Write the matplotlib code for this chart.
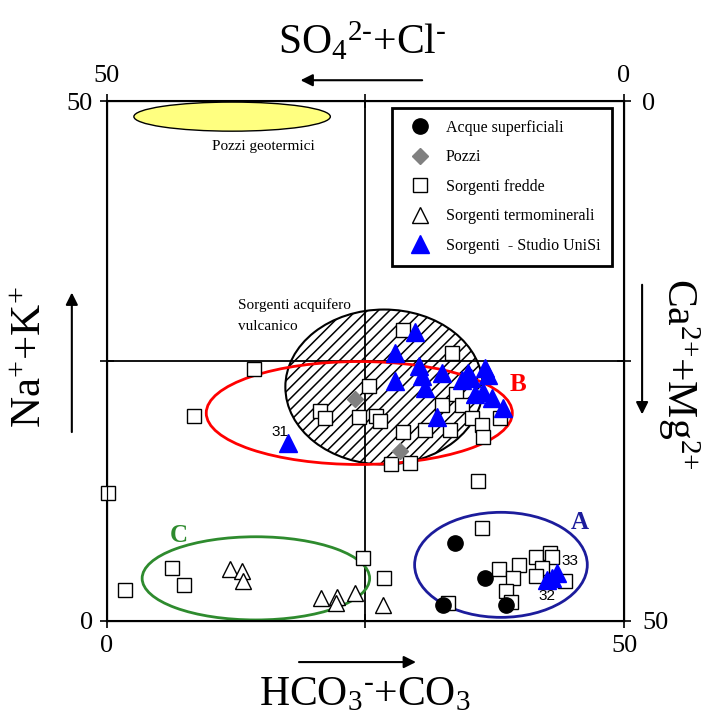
import matplotlib
matplotlib.use('Agg')
import matplotlib.pyplot as plt
from matplotlib.patches import Ellipse
from matplotlib.lines import Line2D

plt.rcParams['font.family'] = 'serif'
plt.rcParams['font.serif'] = ['Liberation Serif', 'DejaVu Serif']
plt.rcParams['mathtext.fontset'] = 'custom'
plt.rcParams['mathtext.rm'] = 'Liberation Serif'
plt.rcParams['mathtext.it'] = 'Liberation Serif:italic'
plt.rcParams['mathtext.bf'] = 'Liberation Serif:bold'
plt.rcParams['hatch.linewidth'] = 1.1

# x = HCO3+CO3 (%), y = Na+K (%)
sup_x = [33.7, 36.6, 32.5, 38.6]
sup_y = [7.5, 4.1, 1.5, 1.5]

pozzi_x = [24.0, 28.3]
pozzi_y = [21.3, 16.3]

fredde_x = [0.1, 1.7, 6.3, 7.4, 8.4, 14.2, 20.6, 21.1, 25.3, 24.4, 26.0, 26.4, 28.6, 27.5,
            29.3, 28.6, 33.4, 30.8, 33.2, 32.4, 33.8, 34.3, 35.3, 36.3, 36.4, 38.0, 35.9,
            36.3, 24.8, 26.8, 33.0, 37.9, 39.8, 39.3, 38.6, 39.1, 41.5, 42.8, 43.0, 42.1,
            41.5, 44.3]
fredde_y = [12.3, 3.0, 5.1, 3.5, 19.7, 24.2, 20.2, 19.5, 22.6, 19.6, 19.7, 19.2, 18.2, 15.1,
            15.2, 28.0, 25.8, 18.4, 18.4, 20.8, 21.8, 20.8, 19.5, 18.8, 17.7, 19.5, 13.5,
            8.9, 6.1, 4.1, 1.7, 5.0, 5.4, 4.1, 2.9, 1.8, 6.2, 6.5, 6.2, 5.1,
            4.3, 3.8]

termo_x = [11.9, 13.1, 13.2, 20.7, 22.2, 22.1, 24.0, 26.7]
termo_y = [5.0, 4.8, 3.8, 2.2, 2.3, 1.7, 2.7, 1.5]

unisi_x = [17.5, 29.8, 27.9, 27.9, 30.2, 30.5, 30.8, 32.4, 34.3, 35.2, 36.6, 36.8, 35.6,
           36.4, 37.2, 38.3, 31.9, 34.9, 42.6, 43.5, 43.0]
unisi_y = [17.1, 27.8, 25.8, 23.1, 24.5, 23.6, 22.4, 23.8, 23.2, 23.4, 24.3, 23.7, 21.8,
           22.0, 21.4, 20.5, 19.6, 23.8, 3.9, 4.6, 4.1]

# numbered samples
num_labels = ['31', '32', '33']
num_x = [16.7, 42.5, 44.8]
num_y = [18.2, 2.4, 5.8]

fig = plt.figure(figsize=(7.02, 7.17), dpi=100)
ax = fig.add_axes([0.1524, 0.1339, 0.7365, 0.7252])
ax.set_xlim(0, 50)
ax.set_ylim(0, 50)

for s in ax.spines.values():
    s.set_linewidth(1.5)

ax.axhline(25, color='black', lw=1.3, zorder=2)
ax.axvline(25, color='black', lw=1.3, zorder=2)

# zones
ax.add_patch(Ellipse((12.1, 48.5), 19.0, 2.8, facecolor='#ffff80', edgecolor='black', lw=1, zorder=1))
ax.add_patch(Ellipse((26.8, 22.5), 19.1, 14.9, facecolor='none', edgecolor='black', hatch='///',
                     lw=1.5, zorder=1))
ax.add_patch(Ellipse((24.4, 20.0), 29.6, 9.9, facecolor='none', edgecolor='red', lw=2, zorder=2))
ax.add_patch(Ellipse((38.1, 5.4), 16.7, 10.1, facecolor='none', edgecolor='#1c1c9c', lw=2, zorder=2))
ax.add_patch(Ellipse((14.4, 4.1), 22.0, 8.0, facecolor='none', edgecolor='#2e8b2e', lw=2, zorder=2))

ax.text(15.1, 45.6, 'Pozzi geotermici', fontsize=11, ha='center', va='center')
ax.text(12.7, 29.4, 'Sorgenti acquifero\nvulcanico', fontsize=11, ha='left', va='center',
        linespacing=1.8)
ax.text(39.7, 22.7, 'B', color='red', fontsize=18, fontweight='bold', ha='center', va='center')
ax.text(45.7, 9.5, 'A', color='#1c1c9c', fontsize=18, fontweight='bold', ha='center', va='center')
ax.text(6.9, 8.2, 'C', color='#2e8b2e', fontsize=18, fontweight='bold', ha='center', va='center')

# points
ax.plot(fredde_x, fredde_y, 's', ms=10, mfc='white', mec='black', mew=1, ls='none', zorder=3,
        clip_on=False)
ax.plot(termo_x, termo_y, '^', ms=12, mfc='white', mec='black', mew=1, ls='none', zorder=3)
ax.plot(pozzi_x, pozzi_y, 'D', ms=8, mfc='#808080', mec='#808080', ls='none', zorder=4)
ax.plot(sup_x, sup_y, 'o', ms=11, mfc='black', mec='black', ls='none', zorder=4)
ax.plot(unisi_x, unisi_y, '^', ms=12.5, mfc='blue', mec='blue', ls='none', zorder=5)

for lab, x, y in zip(num_labels, num_x, num_y):
    ax.text(x, y, lab, fontsize=11, family='Liberation Sans', ha='center', va='center', zorder=6)

# ticks and axis labels
tick_kw = dict(direction='inout', length=10, width=1.2, labelsize=19)
ax.set_xticks([0, 25, 50], ['0', '', '50'])
ax.set_yticks([0, 25, 50], ['0', '', '50'])
ax.tick_params(axis='x', pad=5, **tick_kw)
ax.tick_params(axis='y', pad=5, **tick_kw)

ax_top = ax.twiny()
ax_top.set_xlim(50, 0)
ax_top.set_xticks([0, 25, 50], ['0', '', '50'])
ax_top.tick_params(axis='x', pad=5, **tick_kw)

ax_right = ax.twinx()
ax_right.set_ylim(50, 0)
ax_right.set_yticks([0, 25, 50], ['0', '', '50'])
ax_right.tick_params(axis='y', pad=8, **tick_kw)

ax.text(0.493, 1.090, r'$\text{SO}_4{}^{\text{2-}}\text{+Cl}^{\text{-}}$', transform=ax.transAxes,
        fontsize=30, ha='center', va='baseline')
ax.text(0.499, -0.1615, r'$\text{HCO}_3{}^{\text{-}}\text{+CO}_3$', transform=ax.transAxes,
        fontsize=30, ha='center', va='baseline')
ax.text(-0.147, 0.508, r'$\text{Na}^{\text{+}}\text{+K}^{\text{+}}$', transform=ax.transAxes,
        fontsize=31, ha='center', va='center', rotation=90)
ax.text(1.106, 0.475, r'$\text{Ca}^{\text{2+}}\text{+Mg}^{\text{2+}}$', transform=ax.transAxes,
        fontsize=30, ha='center', va='center', rotation=-90)

arrow = dict(arrowstyle='-|>', color='black', lw=1.5, mutation_scale=18)
ax.annotate('', xy=(0.369, 1.040), xytext=(0.615, 1.040), xycoords='axes fraction',
            arrowprops=arrow, annotation_clip=False)
ax.annotate('', xy=(0.603, -0.079), xytext=(0.366, -0.079), xycoords='axes fraction',
            arrowprops=arrow, annotation_clip=False)
ax.annotate('', xy=(-0.068, 0.637), xytext=(-0.068, 0.358), xycoords='axes fraction',
            arrowprops=arrow, annotation_clip=False)
ax.annotate('', xy=(1.035, 0.392), xytext=(1.035, 0.652), xycoords='axes fraction',
            arrowprops=arrow, annotation_clip=False)

handles = [
    Line2D([], [], marker='o', ls='none', ms=11, mfc='black', mec='black'),
    Line2D([], [], marker='D', ls='none', ms=8, mfc='#808080', mec='#808080'),
    Line2D([], [], marker='s', ls='none', ms=10, mfc='white', mec='black'),
    Line2D([], [], marker='^', ls='none', ms=12, mfc='white', mec='black'),
    Line2D([], [], marker='^', ls='none', ms=12.5, mfc='blue', mec='blue'),
]
names = ['Acque superficiali', 'Pozzi', 'Sorgenti fredde', 'Sorgenti termominerali',
         'Sorgenti  - Studio UniSi']
leg = ax_right.legend(handles, names, loc='upper right', bbox_to_anchor=(0.977, 0.987),
                      bbox_transform=ax.transAxes, fontsize=11.5, frameon=True, fancybox=False,
                      framealpha=1, edgecolor='black', handlelength=2.0, handletextpad=0.6,
                      borderpad=0.75, labelspacing=0.85, borderaxespad=0)
leg.get_frame().set_linewidth(2)

fig.savefig('out.png', dpi=100)
